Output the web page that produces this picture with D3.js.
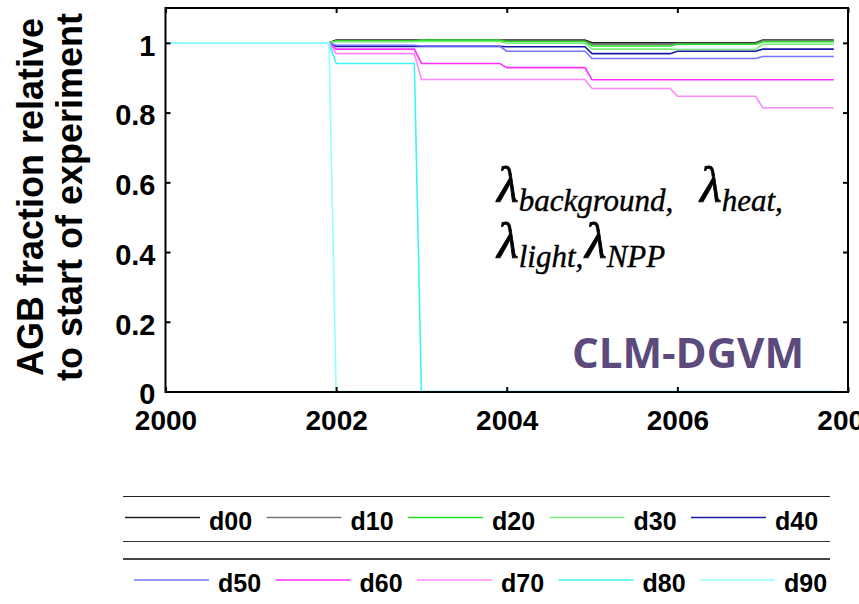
<!DOCTYPE html>
<html>
<head>
<meta charset="utf-8">
<script src="https://cdn.jsdelivr.net/npm/d3@7"></script>
<style>
  body { margin: 0; background: #fff; }
  svg { display: block; }
  .tick text { font-family: "Liberation Sans", Arial, sans-serif; font-weight: bold; font-size: 28px; fill: #000; }
</style>
</head>
<body>
<script>
// AGB fraction per disturbance run, one level per model year
var years = [2000, 2001, 2002, 2003, 2004, 2005, 2006, 2007];
var names = ["d00", "d10", "d20", "d30", "d40", "d50", "d60", "d70", "d80", "d90"];
var d00 = [1, 1, 1.008, 1.008, 1.008, 1.000, 1.000, 1.008];
var d10 = [1, 1, 1.006, 1.006, 1.005, 0.996, 0.998, 1.006];
var d20 = [1, 1, 1.005, 1.008, 1.004, 0.991, 0.996, 1.003];
var d30 = [1, 1, 1.003, 1.004, 0.999, 0.982, 0.981, 0.996];
var d40 = [1, 1, 0.990, 0.990, 0.989, 0.969, 0.976, 0.982];
var d50 = [1, 1, 0.993, 0.991, 0.976, 0.955, 0.955, 0.961];
var d60 = [1, 1, 0.982, 0.941, 0.929, 0.894, 0.894, 0.894];
var d70 = [1, 1, 0.969, 0.895, 0.895, 0.869, 0.847, 0.814];
var d80 = [1, 1, 0.941, 0, 0, 0, 0, 0];
var d90 = [1, 1, 0, 0, 0, 0, 0, 0];
var colors = ["#222222", "#777777", "#22dd22", "#7aee7a", "#1a1aa8", "#7474ff",
              "#ff2cff", "#ff88ff", "#3cf4f4", "#90ffff"];

var xTicks = [2000, 2002, 2004, 2006, 2008];
var yTicks = [0, 0.2, 0.4, 0.6, 0.8, 1];
var yTickLabels = ["0", "0.2", "0.4", "0.6", "0.8", "1"];

var allSeries = [d00, d10, d20, d30, d40, d50, d60, d70, d80, d90];

var svgWidth = 859;
var svgHeight = 604;

var svg = d3.select("body").append("svg")
  .attr("width", svgWidth)
  .attr("height", svgHeight);

var plot = { left: 165.5, right: 848, top: 8, bottom: 391.5 };

var x = d3.scaleLinear().domain([2000, 2008]).range([plot.left, plot.right]);
var y = d3.scaleLinear().domain([0, 1.1]).range([plot.bottom, plot.top]);

// each year's level is held from January to December, last record ends in November
function steps(vals) {
  var pts = [];
  vals.forEach(function(v, i) {
    var endMonth = i === vals.length - 1 ? 10 : 11;
    pts.push([years[i], v]);
    pts.push([years[i] + endMonth / 12, v]);
  });
  return pts;
}

var line = d3.line()
  .x(d => x(d[0]))
  .y(d => y(d[1]));

var lines = svg.append("g");
allSeries.forEach(function(vals, i) {
  lines.append("path")
    .attr("d", line(steps(vals)))
    .attr("fill", "none")
    .attr("stroke", colors[i])
    .attr("stroke-width", 1.6);
});

// axes, ticks pointing inwards on all four sides
var bottomAxis = d3.axisBottom(x).tickValues(xTicks).tickSize(-5).tickPadding(18).tickFormat(d3.format("d"));
var leftAxis = d3.axisLeft(y).tickValues(yTicks).tickSize(-5).tickPadding(10)
  .tickFormat((d, i) => yTickLabels[i]);

var gx = svg.append("g")
  .attr("transform", `translate(0, ${plot.bottom + 0.5})`)
  .call(bottomAxis);
var gy = svg.append("g")
  .attr("transform", `translate(${plot.left}, 0)`)
  .call(leftAxis);
gy.selectAll(".tick text").attr("y", 3).style("font-size", "29px");

var gt = svg.append("g")
  .attr("transform", `translate(0, ${plot.top})`)
  .call(d3.axisTop(x).tickValues(xTicks).tickSize(-5).tickFormat(""));
var gr = svg.append("g")
  .attr("transform", `translate(${plot.right}, 0)`)
  .call(d3.axisRight(y).tickValues(yTicks).tickSize(-5).tickFormat(""));

[gx, gy, gt, gr].forEach(function(g) {
  g.select(".domain").remove();
  g.selectAll(".tick line").attr("stroke", "#000").attr("stroke-width", 2);
});

svg.append("rect")
  .attr("x", plot.left)
  .attr("y", plot.top)
  .attr("width", plot.right - plot.left)
  .attr("height", plot.bottom + 0.5 - plot.top)
  .attr("fill", "none")
  .attr("stroke", "#000")
  .attr("stroke-width", 2);

// y axis title
var yTitle = svg.append("text")
  .attr("transform", "rotate(-90)")
  .attr("text-anchor", "middle")
  .style("font-family", "'Liberation Sans', Arial, sans-serif")
  .style("font-weight", "bold")
  .style("font-size", "36px");
yTitle.append("tspan").attr("x", -197).attr("y", 43).text("AGB fraction relative");
yTitle.append("tspan").attr("x", -197).attr("y", 82).text("to start of experiment");

// mortality terms
var lambdas = [
  { x: 497, y: 202, sub: "background," },
  { x: 700, y: 202, sub: "heat," },
  { x: 497, y: 258, sub: "light," },
  { x: 585, y: 258, sub: "NPP" }
];
lambdas.forEach(function(l) {
  var t = svg.append("text")
    .attr("x", l.x)
    .attr("y", l.y)
    .style("font-family", "'Liberation Serif', serif")
    .style("font-style", "italic")
    .style("font-size", "50px")
    .style("stroke", "#000")
    .style("stroke-width", 0.8)
    .text("λ");
  t.append("tspan")
    .attr("dy", 9)
    .style("font-size", "31px")
    .style("stroke-width", 0.4)
    .text(l.sub);
});

svg.append("text")
  .attr("x", 572)
  .attr("y", 368)
  .style("font-family", "'Open Sans', sans-serif")
  .style("font-weight", "bold")
  .style("font-size", "42px")
  .style("fill", "#5b4a7b")
  .text("CLM-DGVM");

// legend: two horizontal rows, each between rules
var rules = [
  { y: 496.5, w: 1.2, c: "#222" },
  { y: 541.5, w: 1.2, c: "#333" },
  { y: 559, w: 2, c: "#444" }
];
rules.forEach(function(r) {
  svg.append("line")
    .attr("x1", 123).attr("x2", 830)
    .attr("y1", r.y).attr("y2", r.y)
    .attr("stroke", r.c)
    .attr("stroke-width", r.w);
});

var legendRows = [
  { start: 125, ly: 517.5, ty: 530 },
  { start: 134, ly: 580, ty: 592 }
];
names.forEach(function(n, i) {
  var row = legendRows[Math.floor(i / 5)];
  var lx = row.start + (i % 5) * 141.5;
  svg.append("line")
    .attr("x1", lx).attr("x2", lx + 75)
    .attr("y1", row.ly).attr("y2", row.ly)
    .attr("stroke", colors[i])
    .attr("stroke-width", 1.3);
  svg.append("text")
    .attr("x", lx + 84)
    .attr("y", row.ty)
    .style("font-family", "'Liberation Sans', Arial, sans-serif")
    .style("font-weight", "bold")
    .style("font-size", "25px")
    .text(n);
});
</script>
</body>
</html>
